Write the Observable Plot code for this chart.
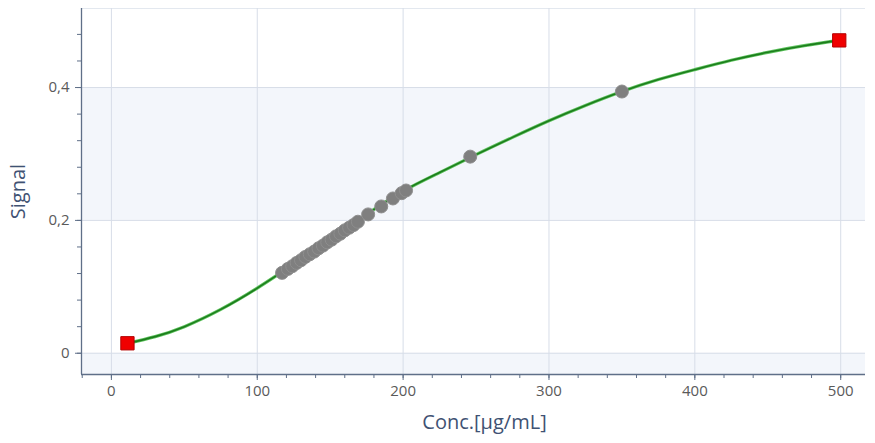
<!DOCTYPE html>
<html>
<head>
<meta charset="utf-8">
<script src="https://cdn.jsdelivr.net/npm/d3@7"></script>
<script src="https://cdn.jsdelivr.net/npm/@observablehq/plot@0.6"></script>
<style>
  html, body { margin: 0; padding: 0; background: #ffffff; }
  #chart svg { display: block; }
</style>
</head>
<body>
<div id="chart"></div>
<script>
// Standards (red squares)
const stdConc = [11, 499];
const stdSignal = [0.015, 0.471];

// Samples (gray dots)
const sampleConc = [117, 121, 124, 127, 130, 133, 136, 139, 142, 145, 148, 151, 154, 157, 160, 163, 166, 169, 176, 185, 193, 199, 202, 246, 350];
const sampleSignal = [0.121, 0.127, 0.131, 0.136, 0.140, 0.145, 0.149, 0.153, 0.158, 0.162, 0.167, 0.171, 0.176, 0.180, 0.185, 0.189, 0.193, 0.198, 0.209, 0.221, 0.233, 0.241, 0.245, 0.296, 0.394];

// Fitted curve
const curveConc = [11, 30, 50, 75, 100, 125, 150, 175, 200, 225, 250, 275, 300, 325, 350, 375, 400, 425, 450, 475, 499];
const curveSignal = [0.015, 0.025, 0.040, 0.066, 0.098, 0.134, 0.171, 0.209, 0.244, 0.272, 0.299, 0.325, 0.350, 0.373, 0.394, 0.412, 0.427, 0.441, 0.453, 0.463, 0.471];

// Axis ticks
const xTicks = [0, 100, 200, 300, 400, 500];
const xMinorTicks = d3.range(-20, 521, 20);
const yTicks = [0, 0.2, 0.4];
const yMinorTicks = d3.range(0, 0.52, 0.04);
const xDomain = [-20.5, 517];
const yDomain = [-0.032, 0.519];

const standards = stdConc.map((c, i) => ({conc: c, signal: stdSignal[i]}));
const samples = sampleConc.map((c, i) => ({conc: c, signal: sampleSignal[i]}));
const curve = curveConc.map((c, i) => ({conc: c, signal: curveSignal[i]}));
const bands = [{y1: -0.2, y2: 0}, {y1: 0.2, y2: 0.4}];

const axisColor = "#5f6f88";
const gridColor = "#d7dde8";
const fmt = d => d === 0 ? "0" : d3.format(".1f")(d).replace(".", ",");

const plot = Plot.plot({
  width: 875,
  height: 443,
  marginLeft: 81,
  marginRight: 10,
  marginTop: 8,
  marginBottom: 69,
  style: {fontFamily: "'Open Sans', 'Noto Sans', sans-serif", background: "#ffffff"},
  x: {domain: xDomain, label: null},
  y: {domain: yDomain, label: null},
  marks: [
    Plot.rect(bands, {y1: "y1", y2: "y2", fill: "#f3f6fb", clip: true}),
    Plot.ruleY([yDomain[1]], {stroke: "#e3e8ef"}),
    Plot.gridX(xTicks, {stroke: gridColor, strokeOpacity: 1}),
    Plot.gridY(yTicks, {stroke: gridColor, strokeOpacity: 1}),
    Plot.axisX(xMinorTicks.filter(d => d >= xDomain[0] && d <= xDomain[1]), {tickSize: 4, text: null, stroke: axisColor}),
    Plot.axisX(xTicks, {tickSize: 6, tickFormat: d => String(d), fontSize: 15, fill: "#5a5a5a", stroke: axisColor, tickPadding: 5, label: null}),
    Plot.axisY(yMinorTicks.filter(d => d >= yDomain[0] && d <= yDomain[1]), {tickSize: 4, text: null, stroke: axisColor}),
    Plot.axisY(yTicks, {tickSize: 6, tickFormat: fmt, fontSize: 15, fill: "#5a5a5a", stroke: axisColor, tickPadding: 6, label: null}),
    Plot.ruleX([xDomain[0]], {stroke: axisColor, strokeWidth: 1.3}),
    Plot.ruleY([yDomain[0]], {stroke: axisColor, strokeWidth: 1.3}),
    Plot.line(curve, {x: "conc", y: "signal", curve: "natural", stroke: "#5cc25c", strokeWidth: 3.2}),
    Plot.line(curve, {x: "conc", y: "signal", curve: "natural", stroke: "#1c7d1c", strokeWidth: 1.6}),
    Plot.dot(samples, {x: "conc", y: "signal", r: 6.5, fill: "#7f7f7f", stroke: "#8e8e8e", strokeWidth: 1}),
    Plot.dot(standards, {x: "conc", y: "signal", symbol: "square", r: 7.5, fill: "#f00000", stroke: "#b40000", strokeWidth: 1}),
    Plot.text(["Signal"], {frameAnchor: "left", textAnchor: "middle", dx: -63, rotate: -90, fontSize: 20, fill: "#3f5273"}),
    Plot.text(["Conc.[µg/mL]"], {frameAnchor: "bottom", dx: 11, dy: 54, fontSize: 20, fill: "#3f5273"})
  ]
});
document.getElementById("chart").appendChild(plot);
</script>
</body>
</html>
